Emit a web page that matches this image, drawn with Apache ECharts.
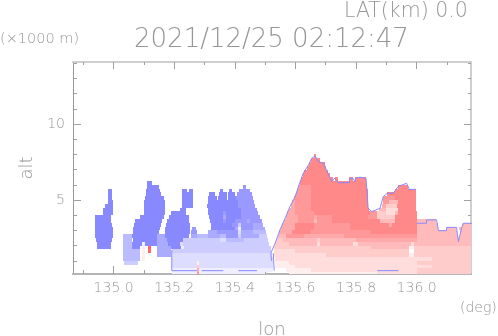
<!DOCTYPE html>
<html><head><meta charset="utf-8">
<style>html,body{margin:0;padding:0;background:#fff}#c{width:498px;height:336px}</style>
<script src="https://cdn.jsdelivr.net/npm/echarts@6/dist/echarts.min.js"></script>
</head><body><div id="c"></div>
<script>
// Longitudes below are stored as hundredths of a degree above lonBase.
const lonBase = 134;
const altStep = 0.25;
const xMajorTicks = [135.0,135.2,135.4,135.6,135.8,136.0];
const xMinorTicks = [134.9,135.1,135.3,135.5,135.7,135.9,136.1];
const yMajorTicks = [5,10];
const yMinorTicks = [1,2,3,4,6,7,8,9,11,12,13,14];
const blueShades = ['#ffffff','#eeeeff','#ddddff','#ccccff','#bbbbff','#aaaaff','#9999ff','#8888ff'];
const redShades  = ['#ffffff','#ffeeee','#ffdddd','#ffcccc','#ffbbbb','#ffaaaa','#ff9999','#ff8888','#ff6666'];

// [row top altitude (x1000 m), from lon, to lon, doppler value]
const blueSegments = [
[6.25,111.1,112.6,-7],
[6,111,115,-7],[6,142.8,143.8,-6],
[5.75,98,99.6,-7],[5.75,110.8,115.3,-7],[5.75,122.7,124.3,-7],[5.75,124.8,126.3,-7],[5.75,135,136,-7],[5.75,138,139,-7],[5.75,141.5,145,-6],
[5.5,98,99.6,-7],[5.5,110.6,115.5,-7],[5.5,122.5,126.3,-7],[5.5,131.5,133.3,-7],[5.5,134.9,137.3,-7],[5.5,137.9,140,-7],[5.5,140.6,145.6,-6],
[5.25,98,99.6,-7],[5.25,110.4,116.5,-7],[5.25,122.5,126.3,-7],[5.25,131.2,134,-7],[5.25,134.5,137.5,-7],[5.25,137.9,140.3,-7],[5.25,140.5,146,-6],
[5,98,99.7,-7],[5,110,117,-7],[5,122.5,126.3,-7],[5,131,141,-7],[5,141,146.3,-6],
[4.75,97,99.7,-7],[4.75,110,117,-7],[4.75,122.5,126.3,-7],[4.75,130.9,141,-7],[4.75,141,146.8,-6],
[4.5,96.6,99.7,-7],[4.5,110,117,-7],[4.5,122,123.8,-7],[4.5,131,142,-7],[4.5,142,147.3,-6],
[4.25,96.6,99.7,-7],[4.25,110,117,-7],[4.25,118.8,124,-7],[4.25,131,136,-7],[4.25,136,137,-6],[4.25,137,142,-7],[4.25,142,147.8,-6],
[4,94,99.3,-7],[4,108.7,116.5,-7],[4,118.2,125,-7],[4,131.5,136,-7],[4,136,137,-5],[4,137,142,-7],[4,142,148.3,-6],
[3.75,93.9,99,-7],[3.75,107,116,-7],[3.75,117.6,125,-7],[3.75,131.8,136,-7],[3.75,136,137,-6],[3.75,137,140,-7],[3.75,140,144,-6],[3.75,144,145,-5],[3.75,145,149,-6],
[3.5,93.9,99.5,-7],[3.5,106.8,115.6,-7],[3.5,117.2,125.2,-7],[3.5,132,139,-7],[3.5,139,141,-6],[3.5,141,142.2,-3],[3.5,142.2,146,-6],[3.5,146,149.4,-5],
[3.25,93.9,99.7,-7],[3.25,106.4,115.2,-7],[3.25,117,125.2,-7],[3.25,125.8,127.2,-6],[3.25,132,140,-7],[3.25,140,141,-5],[3.25,141,142,-1],[3.25,142,146,-6],[3.25,146,149.8,-5],
[3,93.9,99.7,-7],[3,106.3,115,-7],[3,117,125.2,-7],[3,125.7,127.6,-6],[3,131,134,-5],[3,134,141,-6],[3,141,142,-2],[3,142,146,-5],[3,146,150.2,-4],
[2.75,94,99.7,-7],[2.75,103.2,106,-4],[2.75,106.2,114.2,-7],[2.75,114.4,117,-5],[2.75,117,125,-7],[2.75,125.5,127.6,-5],[2.75,127.6,131,-4],[2.75,131,135,-5],[2.75,135,137,-4],[2.75,137,141,-6],[2.75,141,142,-3],[2.75,142,148,-5],[2.75,148,150.6,-3],
[2.5,94.2,99.5,-7],[2.5,103.2,106,-4],[2.5,106.3,114.2,-7],[2.5,114.4,117.5,-5],[2.5,117.5,123,-7],[2.5,123,135,-3],[2.5,135,137,-2],[2.5,137,143,-4],[2.5,143,151,-3],
[2.25,94.6,99.2,-7],[2.25,103.2,106,-4],[2.25,106,109.3,-7],[2.25,109.3,110.4,-1],[2.25,110.4,114.2,-7],[2.25,114.4,118,-5],[2.25,118,122,-7],[2.25,122,123,-2],[2.25,123,137,-3],[2.25,137,151.3,-3],
[2,94.6,99,-7],[2,103.2,106,-4],[2,106,108.7,-7],[2,109.3,110.4,-1],[2,114.4,118.8,-5],[2,119,122.4,-7],[2,122.4,123.2,-1],[2,123.2,152,-3],
[1.75,103.2,108.7,-4],[1.75,114.4,118.8,-5],[1.75,119.2,152.1,-3],
[1.5,103.2,108.7,-4],[1.5,114.4,118.8,-5],[1.5,119.2,125,-2],[1.5,125,152.4,-2],
[1.25,103.2,108.7,-4],[1.25,119.2,152.5,-2],
[1,103.5,108,-3],[1,119.2,140,-2],[1,140,152.6,-2],
[0.75,119.2,152.6,-2],
[0.5,119.2,145,-1],[0.5,145,152.7,-1],
[0.25,119.2,150,-1]
];
const redSegments = [
[8,166,166.8,7],
[7.75,165.1,168,7],
[7.5,164.5,169.7,7],
[7.25,163.7,170,7],
[7,163,170.6,7],
[6.75,162.4,171.5,7],
[6.5,161.9,172.5,7],[6.5,173,174,7],[6.5,177.8,179,7],[6.5,179.7,183.3,7],
[6.25,161.4,183.4,7],
[6,161,165,6],[6,165,183.5,7],[6,193.8,197,7],
[5.75,160.6,165,6],[5.75,165,183.8,7],[5.75,193,199.8,7],
[5.5,160.2,165,6],[5.5,165,183.9,7],[5.5,190.3,199.8,7],
[5.25,159.7,165,6],[5.25,165,183.9,7],[5.25,189,193,6],[5.25,193,199.8,7],
[5,159,160,5],[5,160,165,6],[5,165,184,7],[5,189,191,6],[5,191,194,4],[5,194,199.8,7],
[4.75,158.4,160,5],[4.75,160,165,6],[4.75,165,184,7],[4.75,188.5,190,5],[4.75,190,193.5,3],[4.75,193.5,199.8,7],
[4.5,157.8,160,5],[4.5,160,165,6],[4.5,165,184.2,7],[4.5,187.5,190,4],[4.5,190,194,2],[4.5,194,199.9,7],
[4.25,157.3,160,5],[4.25,160,166,6],[4.25,166,184.6,7],[4.25,184.6,187,6],[4.25,187,190,3],[4.25,190,193,2],[4.25,193,194,4],[4.25,194,200,7],
[4,156.8,161,5],[4,161,166,6],[4,166,167,5],[4,167,172,6],[4,172,184,7],[4,184,187,6],[4,187,193,3],[4,193,200,7],
[3.75,156.2,161,5],[3.75,161,166,6],[3.75,166,167,4],[3.75,167,172,6],[3.75,172,188,7],[3.75,188,193,4],[3.75,193,200,7],[3.75,200,206.5,4],
[3.5,155.7,160,5],[3.5,160,166,7],[3.5,166,178,6],[3.5,178,191,7],[3.5,191,192,5],[3.5,192,200,7],[3.5,200,207,4],[3.5,214.9,218.5,4],
[3.25,155.1,160,5],[3.25,160,166,7],[3.25,166,178,6],[3.25,178,200,7],[3.25,200,207,4],[3.25,209.9,213,4],[3.25,214,218.5,4],
[3,154.6,159,5],[3,159,165,7],[3,165,185,6],[3,185,200,7],[3,200,213.3,4],[3,214.3,218.5,4],
[2.75,154.2,157,4],[2.75,157,163,6],[2.75,163,176,5],[2.75,176,200,6],[2.75,200,213.6,4],[2.75,214.3,218.5,4],
[2.5,153.7,156,3],[2.5,156,167,4],[2.5,167,168,3],[2.5,168,180,4],[2.5,180,200,5],[2.5,200,218.5,4],
[2.25,153.2,158,3],[2.25,158,167,4],[2.25,167,168,2],[2.25,168,179,4],[2.25,179,180.5,2],[2.25,180.5,198,4],[2.25,198,199,2],[2.25,199,218.5,4],
[2,153,158,3],[2,158,185,3],[2,185,197.6,4],[2,197.6,199.2,1],[2,199.2,218.5,3],
[1.75,153,160,2],[1.75,160,197.6,3],[1.75,197.6,199.2,0],[1.75,199.2,218.5,3],
[1.5,153,170,2],[1.5,170,197.6,3],[1.5,197.6,199.2,1],[1.5,199.2,218.5,3],
[1.25,153.2,156,2],[1.25,156,205,2],[1.25,205,218.5,3],
[1,153.2,158,1],[1,158,200,2],[1,200,218.5,3],
[0.75,153.2,160,1],[0.75,160,190,2],[0.75,190,205,2],[0.75,205,218.5,3],
[0.5,157,165,1],[0.5,165,200,2],[0.5,200,218.5,3],
[0.25,158,187,1],[0.25,187,200,2],[0.25,200,218.5,3]
];
const spikeSegments = [
[2,111.5,112.2,8],[1.75,111.5,112.2,8],
[1.75,109.3,110.4,1],[1.5,109.5,110.5,1],[1.25,109.5,110.5,1],
[1,127.4,128.3,1],[0.75,127.4,128.3,3],[0.5,127.4,128.3,5],[0.25,127.4,128.3,6]
];
// thin blue outlines: [lon, altitude], null = gap
const outlinePoints = [
[152.1,1.0],[151.9,1.5],[153.3,2.15],[154.9,3.03],[156.6,3.8],[158.2,4.56],[159.9,5.22],[161,5.88],[162.6,6.76],[164.3,7.31],[165.4,7.74],[166.5,7.9],[167.6,7.52],[169.2,7.42],[170.3,6.93],[172,6.21],[173,6.43],[174.2,6.14],[177.8,6.14],[178,6.43],[179,6.43],[179.7,6.2],[179.9,6.43],[181.3,6.5],[183.3,6.43],[183.8,5.11],[184,4.45],[185.2,4.24],[187.9,4.45],[189,5.22],[190.3,5.44],[192.3,5.44],[193.2,5.7],[194,5.9],[196.7,6.1],[197.6,5.7],[199.8,5.7],null,
[200,3.47],[203.3,3.47],[203.3,3.69],[206.6,3.69],[207.2,2.98],[209.9,2.98],[209.9,3.2],[213.2,3.2],[213.3,2.98],[213.8,2.26],[214.9,3.2],[215.5,3.47],[218.5,3.47],null,
[119.2,1.7],[119.2,0.35],[127.5,0.35],null,[129.1,0.35],[136.2,0.35],null,[141.2,0.35],[147.3,0.35],null,[152.7,1.5],[153,0.35],null,[187,0.35],[194,0.35]
];

const lon = n => lonBase + n / 100;
const cells = blueSegments.concat(redSegments, spikeSegments).map(s => [lon(s[1]), lon(s[2]), s[0], s[0] - altStep, s[3]]);
const outline = outlinePoints.map(p => p ? [lon(p[0]), p[1]] : [null, null]);
const shade = v => v < 0 ? blueShades[-v] : redShades[v];

const TXT = '#969696', FONT = 'DejaVu Sans';
const xRange = {min:134.866, max:136.1795};
const yRange = {min:0.13, max:14.08};
function xAx(pos, ticks, len, extra){
  return Object.assign({type:'value', position:pos, ...xRange, splitLine:{show:false},
    axisLine:{show:true, onZero:false, lineStyle:{color:pos==='bottom'?'#b4b4b4':'#cfcfcf', width:2}},
    axisTick:{show:true, inside:true, length:len, customValues:ticks, lineStyle:{color:'#a0a0a0', width:1}},
    axisLabel:{show:false}}, extra||{});
}
function yAx(pos, ticks, len, extra){
  return Object.assign({type:'value', position:pos, ...yRange, splitLine:{show:false},
    axisLine:{show:true, onZero:false, lineStyle:{color:pos==='left'?'#999':'#cfcfcf', width:pos==='left'?1:2}},
    axisTick:{show:true, inside:true, length:len, customValues:ticks, lineStyle:{color:'#a0a0a0', width:1}},
    axisLabel:{show:false}}, extra||{});
}
const chart = echarts.init(document.getElementById('c'), null, {renderer:'canvas'});
chart.setOption({
  animation:false,
  backgroundColor:'#fff',
  textStyle:{fontFamily:FONT},
  title:[
    {text:'LAT(km) 0.0', left:344, top:1, textStyle:{color:TXT, fontSize:20.5, fontWeight:200, fontFamily:FONT}, padding:0},
    {text:'2021/12/25 02:12:47', left:134, top:27, textStyle:{color:TXT, fontSize:26, fontWeight:200, fontFamily:FONT}, padding:0},
    {text:'(×1000 m)', left:0, top:32, textStyle:{color:TXT, fontSize:14.5, fontWeight:200, fontFamily:FONT}, padding:0},
    {text:'(deg)', left:460, top:301, textStyle:{color:TXT, fontSize:14, fontWeight:200, fontFamily:FONT}, padding:0}
  ],
  grid:{left:73, right:27, top:62, bottom:62, containLabel:false, outerBoundsMode:'none'},
  xAxis:[
    xAx('bottom', xMajorTicks, 8, {name:'lon', nameLocation:'middle', nameGap:47,
      nameTextStyle:{color:TXT, fontSize:18, fontWeight:200, fontFamily:FONT},
      axisLabel:{show:true, customValues:xMajorTicks, color:TXT, fontSize:14, fontWeight:200, margin:7, fontFamily:FONT, formatter:v=>v.toFixed(1)}}),
    xAx('bottom', xMinorTicks, 4),
    xAx('top', xMajorTicks, 7),
    xAx('top', xMinorTicks, 3)
  ],
  yAxis:[
    yAx('left', yMajorTicks, 8, {name:'alt', nameLocation:'middle', nameGap:36,
      nameTextStyle:{color:TXT, fontSize:18, fontWeight:200, fontFamily:FONT},
      axisLabel:{show:true, customValues:yMajorTicks, color:TXT, fontSize:14, fontWeight:200, margin:8, fontFamily:FONT}}),
    yAx('left', yMinorTicks, 4),
    yAx('right', yMajorTicks, 7),
    yAx('right', yMinorTicks, 3)
  ],
  series:[
    {type:'custom', coordinateSystem:'cartesian2d', silent:true, clip:true, z:2, encode:{x:[0,1], y:[2,3]},
     data:cells,
     renderItem:(p, api)=>{
       const a = api.coord([api.value(0), api.value(2)]), b = api.coord([api.value(1), api.value(3)]);
       const x0 = Math.round(a[0]), x1 = Math.round(b[0]), y0 = Math.round(a[1]), y1 = Math.round(b[1]);
       return {type:'rect', shape:{x:x0, y:y0, width:x1-x0, height:y1-y0}, style:{fill:shade(api.value(4))}};
     }},
    {type:'line', silent:true, clip:true, z:3, showSymbol:false, connectNulls:false, data:outline,
     lineStyle:{color:'#8888ff', width:1}}
  ]
});
</script></body></html>
